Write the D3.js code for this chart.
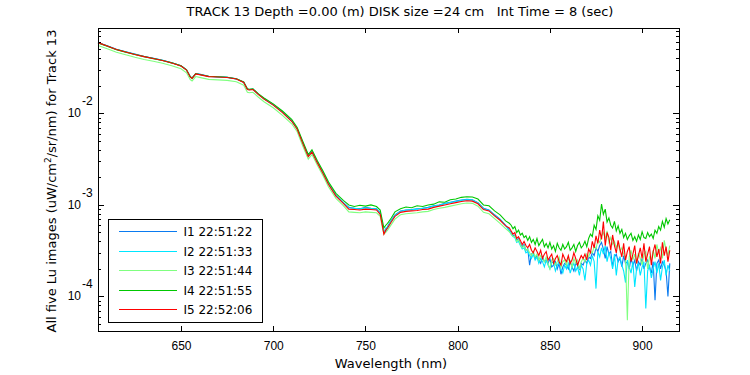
<!DOCTYPE html>
<html>
<head>
<meta charset="utf-8">
<script src="https://cdn.jsdelivr.net/npm/d3@7"></script>
<style>
  body { margin: 0; background: #fff; }
  svg { font-family: "DejaVu Sans", sans-serif; font-size: 12px; }
  .axis path, .axis line { stroke: #000; shape-rendering: crispEdges; }
  .axis text, .tick-lab { fill: #000; font-family: "Liberation Sans", Arial, sans-serif; font-size: 12px; }
</style>
</head>
<body>
<div id="chart"></div>
<script>
// wavelengths (nm)
var wl = [605,610,615,620,625,630,635,640,645,650,653,655,656,658,660,665,670,675,680,684,686,687,689,692,695,700,705,710,713,716,719,721,724,727,730,734,738,
  741,744,747,750,753,756,758,759,760,761,762,764,766,769,772,775,778,781,784,787,790,793,796,799,802,805,808,811,814,817,820,823,826,
  828,829,830,831,832,833,834,835,836,837, 838,839,840,841,842,843,844,845,846,847,
  848,849,850,851,852,853,854,855,856,857, 858,859,860,861,862,863,864,865,866,867,
  868,869,870,871,872,873,874,875,876,877, 878,879,880,881,882,883,884,885,886,887,
  888,889,890,891,892,893,894,895,896,897, 898,899,900,901,902,903,904,905,906,907,
  908,909,910,911,912,913,914,915];

// Lu values, in units of 1e-4 uW/cm^2/sr/nm
var i1 = [595,548,500,470,445,418,400,380,357,331,299,252,243,272,268,254,250,248,238,219,184,182,184,162,145,125,104,83,68,48,34.5,38.5,29.2,22.6,17.0,12.8,10.6,
  9.4,9.2,9.1,9.4,9.2,9.1,8.2,6.4,5.0,5.1,5.8,6.8,7.8,8.6,8.8,8.9,9.1,9.2,9.4,9.8,10.0,10.4,10.7,11.0,11.3,11.5,11.4,10.6,9.2,8.8,7.8,7.0,6.0,
  5.3,5.0,4.6,4.7,4.1,4.3,3.8,3.5,3.7,3.2, 3.3,2.2,2.9,3.0,2.6,2.8,2.5,2.3,2.7,2.4,
  2.5,2.3,2.6,2.1,2.2,2.4,2.0,2.3,1.75,2.1, 2.3,2.2,2.0,2.4,2.1,1.9,2.3,2.2,2.0,2.3,
  2.2,2.5,2.3,2.7,2.6,3.0,2.8,3.4,3.1,3.6, 3.9,3.3,2.6,3.5,2.9,3.1,2.12,2.7,2.9,2.4,
  2.6,2.12,2.8,2.3,2.4,2.0,2.6,2.2,2.5,1.9, 2.4,2.2,2.6,2.0,2.3,2.5,2.1,1.8,2.4,0.91,
  2.3,2.5,2.0,2.4,2.2,1.9,1.0,2.3];
var i2 = [590,544,497,469,442,417,398,379,356,330,298,251,242,271,266,253,250,247,237,218,183,181,183,161,144,124,103,83,68,47.5,34.0,38.2,29.0,22.4,17.0,12.7,10.6,
  9.3,9.2,9.0,9.3,9.1,9.0,8.1,6.6,5.0,5.6,5.7,6.7,7.7,8.5,8.8,8.8,9.0,9.2,9.3,9.7,9.9,10.3,10.6,10.9,11.2,11.4,11.3,10.5,9.1,8.7,7.7,6.9,6.0,
  5.2,4.8,4.5,4.4,3.9,4.0,3.6,3.3,3.4,3.0, 3.1,2.8,2.6,2.9,2.5,2.7,2.3,2.6,2.4,2.1,
  2.5,2.2,2.0,2.4,2.3,1.9,2.2,2.4,2.0,1.8, 2.2,2.0,2.3,1.8,2.1,2.3,1.9,2.1,1.7,2.2,
  2.0,1.5,2.3,2.5,2.2,2.8,2.4,1.22,3.1,2.7, 3.4,2.9,3.6,2.4,3.0,2.6,2.0,2.9,1.7,2.5,
  2.7,2.2,1.9,1.42,2.5,2.1,1.8,2.4,1.27,2.0, 2.3,1.7,2.1,2.4,0.74,1.9,2.2,1.6,2.0,2.4,
  1.8,2.3,1.5,2.1,2.5,1.7,2.2,1.9];
var i3 = [552,508,464,436,410,388,370,352,331,307,277,234,226,252,247,235,232,229,221,203,170,168,170,150,134,115,95,77,63,44,31.5,35.5,27,20.8,15.7,11.8,9.8,
  8.4,8.3,8.2,8.4,8.3,8.2,7.5,5.9,4.8,5.0,5.3,6.1,7.0,7.8,8.0,8.1,8.2,8.4,8.5,8.9,9.2,9.4,9.7,10.0,10.3,10.5,10.4,9.7,8.3,8.0,7.1,6.3,5.5,
  5.1,4.8,4.5,4.6,4.0,4.2,3.7,3.4,3.6,3.2, 3.3,3.0,2.8,3.1,2.7,2.9,2.5,2.8,2.6,2.4,
  2.7,2.3,2.0,2.5,2.6,2.2,2.4,2.7,2.1,2.4, 2.5,2.2,2.6,2.4,2.1,2.6,2.3,2.5,2.0,2.4,
  2.6,2.4,2.9,2.7,3.1,3.0,3.5,3.3,4.1,3.9, 4.6,5.0,4.3,5.2,3.9,4.4,3.7,4.0,3.4,3.8,
  3.1,3.4,2.9,2.6,0.55,2.7,3.2,2.5,2.9,2.3, 3.0,2.6,2.2,2.9,3.1,2.0,2.7,2.5,3.2,2.6,
  3.7,3.0,3.4,2.6,4.1,3.2,2.8,3.6];
var i4 = [588,542,496,466,440,416,396,378,356,330,298,251,242,271,266,254,251,248,239,220,185,183,185,163,147,127,106,86,70,49.5,35.5,40,30.2,23.5,17.8,13.4,11.2,
  10.0,9.6,9.9,9.7,10.0,9.6,8.8,7.0,5.6,6.0,6.3,7.2,8.4,9.1,9.5,9.3,9.8,9.6,10.0,10.2,10.8,10.7,11.4,11.6,12.1,12.3,12.2,11.6,10.0,9.8,8.6,7.8,6.7,
  6.3,6.0,5.5,5.8,5.0,5.3,4.7,4.9,4.4,4.6, 4.1,4.5,3.9,4.2,3.7,4.3,3.6,3.9,4.2,3.5,
  3.8,3.4,3.9,3.3,3.6,3.1,3.8,3.4,3.2,3.7, 3.3,3.5,3.9,3.2,3.4,3.7,3.1,3.6,3.9,3.4,
  3.6,4.0,3.5,4.3,4.8,4.5,6.0,5.4,7.6,6.8, 10.2,7.9,9.0,6.5,7.2,6.0,5.6,6.6,5.2,5.9,
  4.9,5.4,4.4,4.9,4.2,4.6,4.9,4.1,4.5,4.0, 4.7,4.2,5.1,4.4,4.3,5.0,4.5,4.8,4.3,5.3,
  4.9,5.8,5.3,6.6,5.7,7.1,6.2,6.9];
var i5 = [592,545,498,468,440,416,397,378,355,329,297,250,241,270,265,252,249,246,237,217,182,180,182,160,143,123,102,82,67,47,33.7,37.8,28.6,22.1,16.7,12.5,10.4,
  9.0,8.9,8.8,9.0,8.9,8.8,7.9,6.2,4.8,5.3,5.6,6.5,7.5,8.3,8.5,8.6,8.7,8.9,9.0,9.4,9.7,10.0,10.3,10.6,10.9,11.1,11.0,10.3,8.9,8.6,7.6,6.8,5.9,
  5.6,5.2,4.8,5.0,4.3,4.5,4.1,3.7,4.0,3.6, 3.4,3.7,3.2,3.0,3.4,3.1,2.8,3.2,2.6,2.9,
  3.1,2.5,2.7,2.9,2.3,2.6,2.8,2.4,2.2,2.9, 2.6,2.4,2.8,2.3,2.5,3.0,2.6,2.2,2.5,2.8,
  2.6,2.9,2.5,3.3,3.0,4.0,3.4,4.6,3.8,5.3, 4.2,6.6,3.6,5.0,4.4,3.2,4.7,3.6,3.0,4.1,
  3.3,2.7,3.8,2.5,3.1,3.5,2.4,2.9,3.6,2.3, 2.8,3.4,2.6,3.8,2.4,2.9,3.5,2.2,3.1,3.7,
  2.7,3.3,2.3,3.9,2.8,3.5,2.4,3.2];

var names = ["I1 22:51:22", "I2 22:51:33", "I3 22:51:44", "I4 22:51:55", "I5 22:52:06"];
var colors = ["#0a7bf0", "#00e6ff", "#80ff80", "#00c800", "#ff0000"];
var xTicks = [650, 700, 750, 800, 850, 900];
var yMajor = [1e-4, 1e-3, 1e-2];

var series = [i1, i2, i3, i4, i5].map(function(s) {
  return s.map(function(v, k) { return {x: wl[k], y: v * 1e-4}; });
});

var margin = {top: 28, right: 71, bottom: 44, left: 98},
  width = 750 - margin.left - margin.right,
  height = 375 - margin.top - margin.bottom;

var root = d3.select("#chart").append("svg")
  .attr("width", 750)
  .attr("height", 375);

var svg = root.append("g")
  .attr("transform", "translate(" + margin.left + "," + margin.top + ")");

var x = d3.scaleLinear().domain([605, 920]).range([0, width]);
var y = d3.scaleLog().domain([4.2e-5, 0.0855]).range([height, 0]);

// spectra
var line = d3.line()
  .x(function(d) { return x(d.x); })
  .y(function(d) { return y(d.y); });

svg.selectAll("path.spec")
  .data(series)
  .enter().append("path")
  .attr("class", "spec")
  .attr("fill", "none")
  .attr("stroke", function(d, i) { return colors[i]; })
  .attr("stroke-width", 1.1)
  .attr("d", line);

// axes, ticks pointing in
svg.append("g").attr("class", "axis")
  .attr("transform", "translate(0," + height + ")")
  .call(d3.axisBottom(x).tickValues(xTicks).tickSize(-5).tickSizeOuter(0).tickPadding(10));
svg.append("g").attr("class", "axis")
  .call(d3.axisTop(x).tickValues(xTicks).tickSize(-5).tickSizeOuter(0).tickFormat(""));

var yMinor = y.ticks().filter(function(v) { return yMajor.indexOf(v) < 0; });

svg.append("g").attr("class", "axis")
  .call(d3.axisLeft(y).tickValues(yMajor).tickSize(-6).tickSizeOuter(0).tickFormat(""));
svg.append("g").attr("class", "axis")
  .call(d3.axisLeft(y).tickValues(yMinor).tickSize(-3).tickSizeOuter(0).tickFormat(""))
  .select(".domain").remove();
svg.append("g").attr("class", "axis")
  .attr("transform", "translate(" + width + ",0)")
  .call(d3.axisRight(y).tickValues(yMajor).tickSize(-6).tickSizeOuter(0).tickFormat(""));
svg.append("g").attr("class", "axis")
  .attr("transform", "translate(" + width + ",0)")
  .call(d3.axisRight(y).tickValues(yMinor).tickSize(-3).tickSizeOuter(0).tickFormat(""))
  .select(".domain").remove();

// y tick labels as 10^n
svg.selectAll("text.ylab")
  .data(yMajor)
  .enter().append("text")
  .attr("class", "tick-lab")
  .attr("x", -17)
  .attr("y", function(d) { return y(d) + 4; })
  .attr("text-anchor", "end")
  .text("10");
svg.selectAll("text.yexp")
  .data(yMajor)
  .enter().append("text")
  .attr("class", "tick-lab")
  .attr("x", -16)
  .attr("y", function(d) { return y(d) - 8; })
  .text(function(d) { return Math.round(Math.log10(d)); });

// box
svg.append("rect")
  .attr("width", width).attr("height", height)
  .attr("fill", "none").attr("stroke", "#000")
  .attr("shape-rendering", "crispEdges");

// legend
var leg = svg.append("g").attr("transform", "translate(10.5,191.5)");
leg.append("rect")
  .attr("width", 154).attr("height", 103)
  .attr("fill", "#fff").attr("stroke", "#000")
  .attr("shape-rendering", "crispEdges");
var rows = leg.selectAll("g.row")
  .data(names)
  .enter().append("g")
  .attr("transform", function(d, i) { return "translate(0," + Math.round(12 + i * 19.5) + ")"; });
rows.append("line")
  .attr("x1", 10).attr("x2", 68)
  .attr("shape-rendering", "crispEdges")
  .attr("stroke", function(d, i) { return colors[i]; });
rows.append("text")
  .attr("x", 75).attr("dy", "0.36em")
  .text(function(d) { return d; });

// title and labels
root.append("text")
  .attr("x", 400).attr("y", 16)
  .attr("text-anchor", "middle")
  .attr("xml:space", "preserve")
  .style("white-space", "pre")
  .style("font-size", "13px")
  .text("TRACK 13 Depth =0.00 (m) DISK size =24 cm   Int Time = 8 (sec)");

root.append("text")
  .attr("x", 391).attr("y", 368)
  .attr("text-anchor", "middle")
  .style("font-size", "13px")
  .text("Wavelength (nm)");

var yl = root.append("text")
  .attr("transform", "translate(56,181) rotate(-90)")
  .attr("text-anchor", "middle")
  .style("font-size", "13px");
yl.append("tspan").text("All five Lu images (uW/cm");
yl.append("tspan").attr("dy", -5).style("font-size", "9px").text("2");
yl.append("tspan").attr("dy", 5).text("/sr/nm) for Track 13");
</script>
</body>
</html>
